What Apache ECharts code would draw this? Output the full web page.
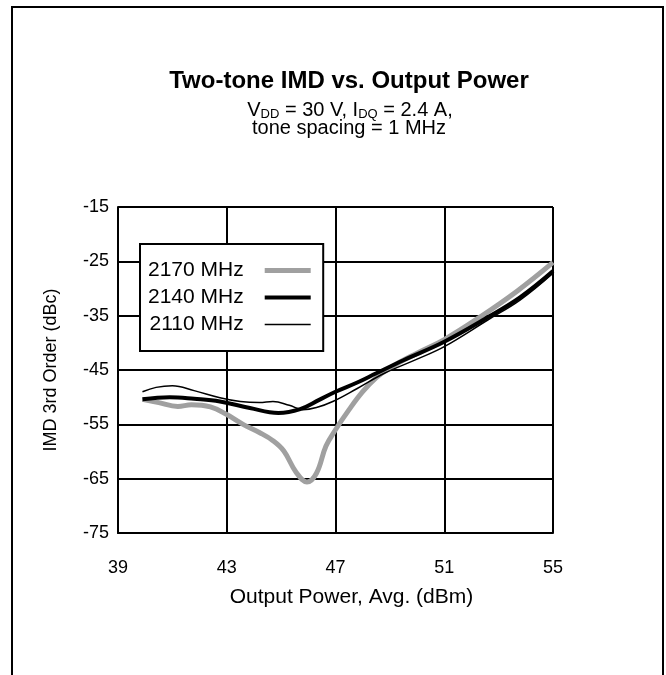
<!DOCTYPE html>
<html>
<head>
<meta charset="utf-8">
<style>
html,body{margin:0;padding:0;background:#fff;}
#chart{width:666px;height:675px;}
</style>
<script src="https://cdn.jsdelivr.net/npm/echarts@6/dist/echarts.min.js"></script>
</head>
<body>
<div id="chart"></div>
<script>
// ---- data ----
const seriesNames = ['2170 MHz', '2140 MHz', '2110 MHz'];
const xTicks = [39, 43, 47, 51, 55];
const yTicks = [-75, -65, -55, -45, -35, -25, -15];

const data2170 = [
  [39.9,-50.4],[40.5,-51.0],[41.2,-51.7],[41.7,-51.4],[42.4,-51.8],[43.0,-53.2],
  [43.6,-55.0],[44.2,-56.5],[44.7,-58.0],[45.1,-59.9],[45.55,-63.8],[45.95,-65.6],
  [46.3,-64.0],[46.65,-59.0],[47.0,-56.0],[47.5,-52.3],[48.0,-49.0],[48.5,-46.4],
  [49.0,-44.6],[50.0,-41.9],[51.0,-39.4],[52.3,-35.3],[53.7,-30.4],[55.0,-25.2]
];
const data2140 = [
  [39.9,-50.4],[40.9,-50.0],[41.8,-50.3],[42.75,-50.8],[43.85,-52.0],[44.9,-52.9],
  [45.7,-52.2],[46.4,-50.5],[47.0,-49.0],[47.8,-47.3],[48.5,-45.6],[49.5,-43.2],
  [51.0,-39.8],[52.6,-35.3],[53.8,-31.6],[55.0,-26.8]
];
const data2110 = [
  [39.9,-49.0],[40.4,-48.2],[41.0,-47.9],[41.8,-48.8],[42.75,-50.1],[43.5,-50.8],
  [44.2,-51.0],[44.7,-50.8],[45.3,-51.5],[45.8,-52.3],[46.3,-51.9],[46.9,-50.8],
  [47.8,-48.4],[48.8,-45.6],[50.0,-43.0],[51.0,-40.7],[52.6,-35.8],[53.8,-32.1],
  [55.0,-27.2]
];

const FONT = "'Liberation Sans', Arial, sans-serif";
const chart = echarts.init(document.getElementById('chart'), null, {renderer: 'canvas'});

const option = {
  backgroundColor: '#fff',
  animation: false,
  textStyle: {fontFamily: FONT, color: '#000'},
  graphic: [{
    type: 'rect', silent: true,
    shape: {x: 12, y: 7, width: 651, height: 690},
    style: {fill: 'none', stroke: '#000', lineWidth: 2}
  }],
  title: [
    {text: 'Two-tone IMD vs. Output Power', left: 344, top: 64, textAlign: 'center',
     textStyle: {fontFamily: FONT, fontWeight: 'bold', fontSize: 24, color: '#000'}},
    {text: '{n|V}{s|DD}{n| = 30 V, I}{s|DQ}{n| = 2.4 A,}', left: 345, top: 94, textAlign: 'center',
     textStyle: {fontWeight: 'normal', rich: {
       n: {fontFamily: FONT, fontSize: 20, fontWeight: 'normal', color: '#000'},
       s: {fontFamily: FONT, fontSize: 13, fontWeight: 'normal', color: '#000', padding: [9, 0, 0, 0]}
     }}},
    {text: 'tone spacing = 1 MHz', left: 344, top: 113, textAlign: 'center',
     textStyle: {fontFamily: FONT, fontSize: 20, fontWeight: 'normal', color: '#000'}}
  ],
  legend: {
    orient: 'vertical', left: 140, top: 244, align: 'right',
    backgroundColor: '#fff', borderColor: '#000', borderWidth: 2, borderRadius: 0,
    padding: [16, 10, 16, 8],
    itemWidth: 46, itemHeight: 10, itemGap: 6,
    textStyle: {fontFamily: FONT, fontSize: 21, color: '#000', lineHeight: 20, padding: [0, 16, 0, 0]},
    data: [
      {name: seriesNames[0], lineStyle: {width: 5, color: '#a0a0a0'}, itemStyle: {opacity: 0, borderWidth: 0}},
      {name: seriesNames[1], lineStyle: {width: 4, color: '#000'}, itemStyle: {opacity: 0, borderWidth: 0}},
      {name: seriesNames[2], lineStyle: {width: 1.5, color: '#000'}, itemStyle: {opacity: 0, borderWidth: 0}}
    ]
  },
  grid: {left: 118, top: 207, right: 113, bottom: 142, containLabel: false},
  xAxis: {
    type: 'value', min: xTicks[0], max: xTicks[xTicks.length - 1], interval: 4,
    name: 'Output Power, Avg. (dBm)', nameLocation: 'middle', nameGap: 54,
    nameTextStyle: {fontFamily: FONT, fontSize: 21, color: '#000', padding: [0, 0, 0, 32]},
    axisLine: {show: true, lineStyle: {color: '#000', width: 2}},
    axisTick: {show: false},
    axisLabel: {fontFamily: FONT, fontSize: 18, color: '#000', margin: 26},
    splitLine: {show: true, lineStyle: {color: '#000', width: 2}}
  },
  yAxis: {
    type: 'value', min: yTicks[0], max: yTicks[yTicks.length - 1], interval: 10,
    name: 'IMD 3rd Order (dBc)', nameLocation: 'middle', nameGap: 58,
    nameTextStyle: {fontFamily: FONT, fontSize: 18, color: '#000'},
    axisLine: {show: true, lineStyle: {color: '#000', width: 2}},
    axisTick: {show: false},
    axisLabel: {fontFamily: FONT, fontSize: 18, color: '#000', margin: 9},
    splitLine: {show: true, lineStyle: {color: '#000', width: 2}}
  },
  series: [
    {name: seriesNames[0], type: 'line', data: data2170, smooth: 0.4, symbol: 'none',
     lineStyle: {color: '#a0a0a0', width: 5}, itemStyle: {color: '#a0a0a0'}, z: 2},
    {name: seriesNames[1], type: 'line', data: data2140, smooth: 0.4, symbol: 'none',
     lineStyle: {color: '#000', width: 4}, itemStyle: {color: '#000'}, z: 3},
    {name: seriesNames[2], type: 'line', data: data2110, smooth: 0.4, symbol: 'none',
     lineStyle: {color: '#000', width: 1.5}, itemStyle: {color: '#000'}, z: 4}
  ]
};
chart.setOption(option);
</script>
</body>
</html>
